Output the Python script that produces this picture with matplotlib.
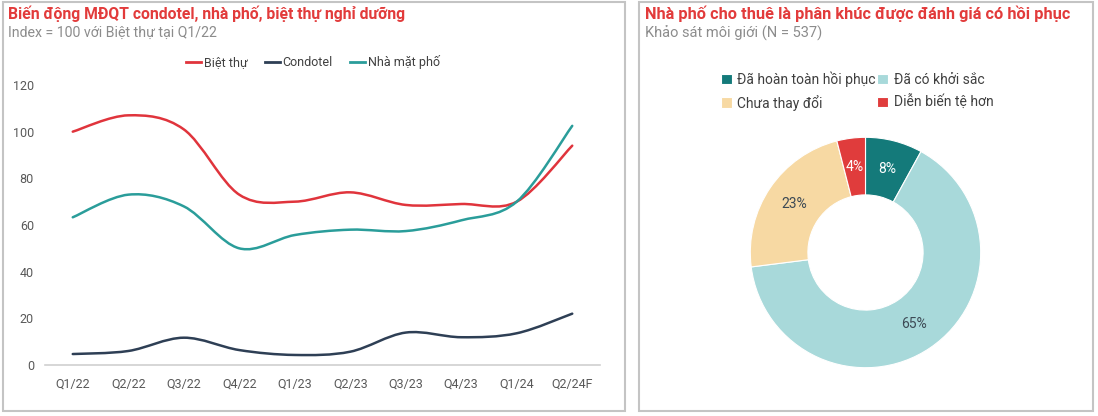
import matplotlib
matplotlib.use('Agg')
import matplotlib.pyplot as plt
from matplotlib.path import Path
from matplotlib.patches import PathPatch, Rectangle
from matplotlib.lines import Line2D
import numpy as np

plt.rcParams['font.family'] = ['Roboto', 'DejaVu Sans']

# --- Dados ---
QUY = ['Q1/22', 'Q2/22', 'Q3/22', 'Q4/22', 'Q1/23', 'Q2/23', 'Q3/23', 'Q4/23', 'Q1/24', 'Q2/24F']
BIET_THU = [100, 107, 101, 73, 70, 74, 68.6, 69, 70, 94]
CONDOTEL = [4.7, 6, 11.7, 6.4, 4.3, 5.7, 13.9, 11.9, 13.6, 22]
NHA_MAT_PHO = [63.3, 73, 68, 50, 55.7, 58, 57.4, 62, 70, 102.5]

NHAN_TRON = ['Đã hoàn toàn hồi phục', 'Đã có khởi sắc', 'Chưa thay đổi', 'Diễn biến tệ hơn']
TY_LE = [8, 65, 23, 4]

ROXO = '#e0343c'
NAVY = '#2e3f55'
TEAL = '#2a9d9a'
CORES_TRON = ['#147a7a', '#a8d9da', '#f7d9a3', '#e03c3c']
VERMELHO_TITULO = '#e23b3b'
CINZA = '#8c8c8c'


def curva_suave(ax, ys, cor):
    """Linha suavizada (estilo Excel) com Bezier cubica."""
    xs = np.arange(len(ys), dtype=float)
    ys = np.asarray(ys, dtype=float)
    pts = np.column_stack([xs, ys])
    n = len(pts)
    verts = [pts[0]]
    codes = [Path.MOVETO]
    for i in range(n - 1):
        p0 = pts[i - 1] if i > 0 else pts[i]
        p1 = pts[i]
        p2 = pts[i + 1]
        p3 = pts[i + 2] if i + 2 < n else pts[i + 1]
        c1 = p1 + (p2 - p0) / 6.0
        c2 = p2 - (p3 - p1) / 6.0
        verts += [c1, c2, p2]
        codes += [Path.CURVE4] * 3
    ax.add_patch(PathPatch(Path(verts, codes), facecolor='none', edgecolor=cor, lw=1.8,
                           capstyle='round'))


fig = plt.figure(figsize=(10.98, 4.16), dpi=100)
W, H = 1098, 416

# molduras
for x0, x1 in [(3, 625), (639, 1093)]:
    fig.patches.append(Rectangle((x0 / W, 1 - 411 / H), (x1 - x0) / W, 409 / H,
                                 transform=fig.transFigure, fill=False,
                                 edgecolor='#c4c4c4', lw=1.5))

# --- Grafico de linhas ---
fig.text(8 / W, 1 - 14 / H, 'Biến động MĐQT condotel, nhà phố, biệt thự nghỉ dưỡng',
         color=VERMELHO_TITULO, fontsize=11.3, fontweight='bold', va='center')
fig.text(8 / W, 1 - 33 / H, 'Index = 100 với Biệt thự tại Q1/22',
         color=CINZA, fontsize=10.2, va='center')

ax = fig.add_axes([45 / W, 1 - 365 / H, 555 / W, 280 / H])
curva_suave(ax, BIET_THU, ROXO)
curva_suave(ax, CONDOTEL, NAVY)
curva_suave(ax, NHA_MAT_PHO, TEAL)
ax.set_xlim(-0.5, len(QUY) - 0.5)
ax.set_ylim(0, 120)
ax.set_xticks(range(len(QUY)))
ax.set_xticklabels(QUY)
ax.set_yticks(range(0, 121, 20))
for s in ['top', 'right', 'left']:
    ax.spines[s].set_visible(False)
ax.spines['bottom'].set_color('#d0d0d0')
ax.spines['bottom'].set_linewidth(1.2)
ax.tick_params(axis='both', length=0, labelsize=9, colors='#595959')
ax.tick_params(axis='x', pad=9)
ax.tick_params(axis='y', pad=8)

handles = [Line2D([], [], color=c, lw=2) for c in (ROXO, NAVY, TEAL)]
fig.legend(handles, ['Biệt thự', 'Condotel', 'Nhà mặt phố'], loc='center',
           bbox_to_anchor=(313 / W, 1 - 62 / H), ncol=3, frameon=False,
           fontsize=9, handlelength=1.2, handletextpad=0.2, columnspacing=1.4,
           labelcolor='#404040')

# --- Grafico de rosca ---
fig.text(645 / W, 1 - 14 / H, 'Nhà phố cho thuê là phân khúc được đánh giá có hồi phục',
         color=VERMELHO_TITULO, fontsize=11.8, fontweight='bold', va='center')
fig.text(645 / W, 1 - 33 / H, 'Khảo sát môi giới (N = 537)',
         color=CINZA, fontsize=10.5, va='center')

ax2 = fig.add_axes([748 / W, 1 - 370 / H, 235 / W, 235 / H])
fatias, _, textos = ax2.pie(TY_LE, colors=CORES_TRON, startangle=90, counterclock=False,
                            autopct='%d%%', pctdistance=0.75,
                            wedgeprops=dict(width=0.5, edgecolor='white', linewidth=0.8),
                            textprops=dict(fontsize=10))
for t, c in zip(textos, ['white', '#3d4a55', '#3d4a55', 'white']):
    t.set_color(c)
ax2.set_xlim(-1.02, 1.02)
ax2.set_ylim(-1.02, 1.02)

# legenda preenchida por linha: reordena para colunas do matplotlib
ordem = [0, 2, 1, 3]
fig.legend([fatias[i] for i in ordem], [NHAN_TRON[i] for i in ordem], loc='upper left',
           bbox_to_anchor=(708 / W, 1 - 59 / H), ncol=2, frameon=False, fontsize=10,
           handlelength=0.8, handleheight=0.8, handletextpad=0.4, columnspacing=0.1,
           labelspacing=0.55, labelcolor='#404040')

fig.savefig('out.png', dpi=100)
